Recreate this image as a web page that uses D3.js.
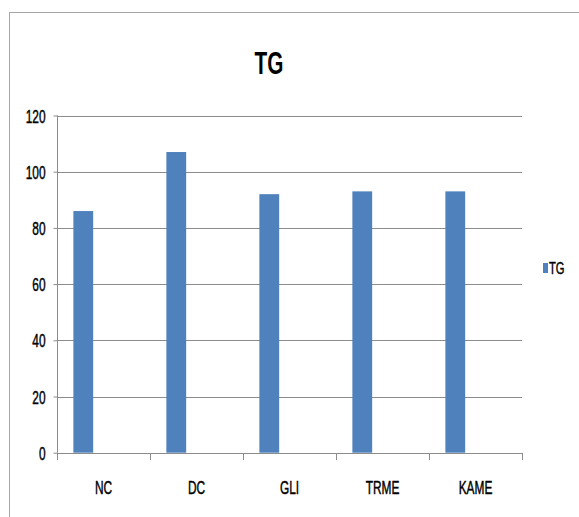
<!DOCTYPE html>
<html>
<head>
<meta charset="utf-8">
<script src="https://cdn.jsdelivr.net/npm/d3@7"></script>
<style>
  html, body { margin: 0; padding: 0; background: #fff; }
  svg { display: block; }
  text { font-family: "Liberation Sans", Arial, sans-serif; fill: #000; }
</style>
</head>
<body>
<svg id="chart" width="579" height="517"></svg>
<script>
// TG values per group
const categories = ["NC", "DC", "GLI", "TRME", "KAME"];
const tgValues = [86, 107, 92, 93, 93];
const yTicks = [0, 20, 40, 60, 80, 100, 120];
const seriesName = "TG";

const svg = d3.select("#chart");
const plot = { left: 57, right: 522, top: 115.5, bottom: 452.7 };
const squeeze = 0.66;   // condensed lettering

// chart frame
svg.append("rect")
  .attr("x", 9.5).attr("y", 12.5)
  .attr("width", 600).attr("height", 600)
  .attr("fill", "none").attr("stroke", "#a6a6a6").attr("stroke-width", 1);

const x = d3.scaleBand().domain(categories).range([plot.left, plot.right]).padding(0);
const y = d3.scaleLinear().domain([0, 120]).range([plot.bottom, plot.top]);

// horizontal gridlines
svg.append("g").selectAll("line").data(yTicks.filter(d => d > 0)).join("line")
  .attr("x1", plot.left).attr("x2", plot.right)
  .attr("y1", d => Math.round(y(d)) + 0.5).attr("y2", d => Math.round(y(d)) + 0.5)
  .attr("stroke", "#8c8c8c").attr("stroke-width", 1);

// bars: first slot of a two-slot cluster in each category
const bw = x.bandwidth();
svg.append("g").selectAll("rect").data(categories).join("rect")
  .attr("x", (d) => x(d) + bw * 0.176)
  .attr("width", bw * 0.213)
  .attr("y", (d, i) => y(tgValues[i]))
  .attr("height", (d, i) => y(0) - y(tgValues[i]))
  .attr("fill", "#4f81bd");

// y axis
const yAxis = svg.append("g")
  .attr("transform", `translate(${plot.left + 0.5},0)`)
  .call(d3.axisLeft(y).tickValues(yTicks).tickSize(4).tickFormat(d3.format("d")));
yAxis.select(".domain").attr("stroke", "#8c8c8c").attr("d", `M0,${plot.top}V${plot.bottom}`);
yAxis.selectAll(".tick line").attr("stroke", "#8c8c8c");
yAxis.selectAll(".tick text")
  .attr("x", null).attr("dy", null)
  .attr("font-size", 18).attr("stroke", "#000").attr("stroke-width", 0.45)
  .attr("transform", `translate(-12,6.5) scale(${squeeze},1)`);

// x axis
const xAxis = svg.append("g")
  .attr("transform", `translate(0,${Math.round(plot.bottom) + 0.5})`)
  .call(d3.axisBottom(x).tickSize(0));
xAxis.select(".domain").attr("stroke", "#8c8c8c").attr("d", `M${plot.left},0H${plot.right}`);
xAxis.selectAll(".tick text")
  .attr("y", null).attr("dy", null)
  .attr("font-size", 18).attr("stroke", "#000").attr("stroke-width", 0.45)
  .attr("transform", `translate(0,40) scale(${squeeze},1)`);
// category separators
svg.append("g").selectAll("line").data(categories.map(c => x(c)).concat([plot.right])).join("line")
  .attr("x1", d => Math.round(d) + 0.5).attr("x2", d => Math.round(d) + 0.5)
  .attr("y1", Math.round(plot.bottom)).attr("y2", Math.round(plot.bottom) + 7)
  .attr("stroke", "#8c8c8c");

// title
svg.append("text")
  .attr("transform", `translate(269,73.5) scale(0.65,1)`)
  .attr("text-anchor", "middle")
  .attr("font-size", 32).attr("font-weight", "bold")
  .text(seriesName);

// legend
svg.append("rect").attr("x", 543).attr("y", 263).attr("width", 5).attr("height", 10).attr("fill", "#4f81bd");
svg.append("text")
  .attr("transform", `translate(549,274) scale(${squeeze},1)`)
  .attr("font-size", 17).attr("stroke", "#000").attr("stroke-width", 0.45)
  .text(seriesName);
</script>
</body>
</html>
